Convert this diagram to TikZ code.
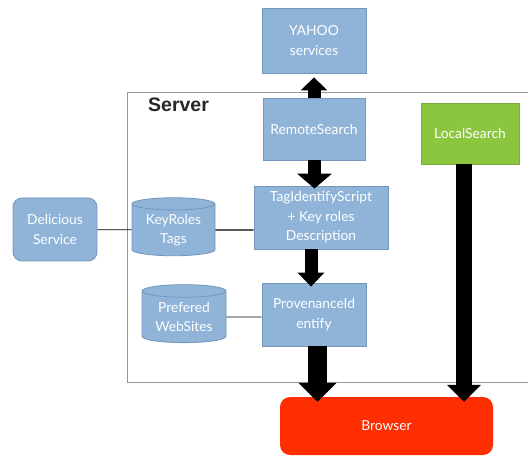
\documentclass[tikz,border=0pt]{standalone}
\usepackage{fontspec}
\setmainfont{Lato}
\newfontfamily\headfont{Liberation Sans}
\usetikzlibrary{arrows.meta,shapes.geometric}
\definecolor{boxblue}{HTML}{8FB4D8}
\definecolor{boxedge}{HTML}{7397BD}
\definecolor{boxgreen}{HTML}{8CC63F}
\definecolor{greenedge}{HTML}{79AE38}
\definecolor{boxred}{HTML}{FF2E00}
\definecolor{frameline}{HTML}{8C9AA6}
\tikzset{
  txt/.style={text=white, font=\fontsize{13.8}{19.5}\selectfont, align=center, inner sep=0pt},
  bluebox/.style={txt, draw=boxedge, fill=boxblue, line width=0.8pt},
  roundbox/.style={bluebox, rounded corners=9pt},
  store/.style={txt, cylinder, shape border rotate=90, aspect=0.22, draw=boxedge, fill=boxblue, line width=0.8pt},
  greenbox/.style={txt, draw=greenedge, fill=boxgreen, line width=0.8pt},
  redbox/.style={txt, fill=boxred, rounded corners=10pt},
  flow/.style={draw=black},
  link/.style={draw=black, line width=0.7pt}
}
\begin{document}
\begin{tikzpicture}[x=1pt,y=-1pt]
\useasboundingbox (0,0) rectangle (528,457);
% server frame
\draw[frameline, line width=0.9pt] (528,92) -- (127,92) -- (127,382) -- (528,382);
\node[anchor=base west, font=\headfont\bfseries\fontsize{19.5}{20}\selectfont, text=black!85, inner sep=0pt] (srv) at (148,112) {Server};

% boxes
\node[bluebox, minimum width=104pt, minimum height=65pt] (yahoo) at (314,40.5) {YAHOO\\services};
\node[bluebox, minimum width=102pt, minimum height=62pt] (remote) at (314,129) {RemoteSearch};
\node[greenbox, minimum width=98pt, minimum height=61pt] (local) at (470,133.5) {LocalSearch};
\node[bluebox, minimum width=134pt, minimum height=63pt] (tag) at (321,217.5) {TagIdentifyScript\\+ Key roles\\Description};
\node[bluebox, minimum width=104pt, minimum height=63pt] (prov) at (314,314.5) {ProvenanceId\\entify};
\node[redbox, minimum width=213pt, minimum height=58pt] (browser) at (386.5,426) {Browser};
\node[roundbox, minimum width=84pt, minimum height=63pt] (delicious) at (55,229.5) {Delicious\\Service};
\node[store, minimum width=83pt, minimum height=58pt] (keyroles) at (173.5,230) {KeyRoles\\Tags};
\node[store, minimum width=84pt, minimum height=58pt] (prefered) at (184,317) {Prefered\\WebSites};

% arrow end points
\coordinate (remoteout) at ([xshift=0.5pt]remote.south);
\coordinate (provout) at ([xshift=3.5pt]prov.south);
\coordinate (localout) at ([xshift=-6pt]local.south);

% connectors
\draw[link] (delicious) -- (keyroles);
\draw[link, line width=1.4pt] (keyroles) -- (keyroles -| tag.west);
\draw[link] (prefered) -- (prefered -| prov.west);

% flow arrows
\draw[flow, line width=13pt, -{Triangle[width=26pt,length=13pt]}] (remote.north) -- ([yshift=-4pt]yahoo.south);
\draw[flow, line width=13pt, -{Triangle[width=34pt,length=15pt]}] (remoteout) -- ([yshift=-3pt]tag.north -| remoteout);
\draw[flow, line width=13pt, -{Triangle[width=26pt,length=14pt]}] ([xshift=-10pt]tag.south) -- ([xshift=-3pt,yshift=-4pt]prov.north);
\draw[flow, line width=19pt, -{Triangle[width=37pt,length=19pt]}] (provout) -- ([yshift=-5pt]browser.north -| provout);
\draw[flow, line width=16pt, -{Triangle[width=33pt,length=17pt]}] (localout) -- ([yshift=-5pt]browser.north -| localout);
\end{tikzpicture}
\end{document}
